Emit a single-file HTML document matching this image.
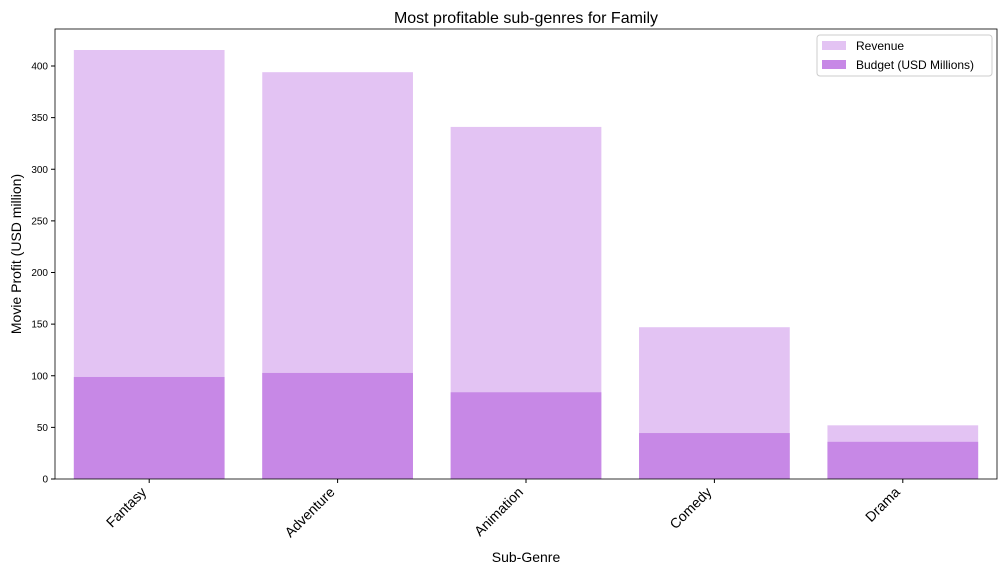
<!DOCTYPE html>
<html><head><meta charset="utf-8"><style>
body{margin:0;background:#fff;font-family:"Liberation Sans","DejaVu Sans",sans-serif}
</style></head><body>
<svg id="chart" width="1008" height="576" xmlns="http://www.w3.org/2000/svg" font-family="Liberation Sans, DejaVu Sans, sans-serif">
<rect width="1008" height="576" fill="#fff"/>
<text x="526" y="23" font-size="16" text-anchor="middle">Most profitable sub-genres for Family</text>
<g id="plot"></g>
<rect x="55" y="29" width="942" height="450" fill="none" stroke="#000" stroke-width="0.8"/>
<text transform="translate(21,254) rotate(-90)" font-size="14" text-anchor="middle">Movie Profit (USD million)</text>
<text x="526" y="562" font-size="14" text-anchor="middle">Sub-Genre</text>
<g>
<rect x="817" y="35" width="175" height="41" fill="#fff" stroke="#ccc" rx="3"/>
<rect x="822" y="41" width="24" height="9" fill="#e3c3f3"/>
<text x="856" y="50" font-size="12">Revenue</text>
<rect x="822" y="60" width="24" height="9" fill="#c788e6"/>
<text x="856" y="69" font-size="12">Budget (USD Millions)</text>
</g>
</svg>
<script>
const categories=["Fantasy","Adventure","Animation","Comedy","Drama"];
const revenue=[415.5,394,341,147,52];
const budget=[98.8,102.7,84,44.5,36];
const yTicks=[0,50,100,150,200,250,300,350,400];
const NS="http://www.w3.org/2000/svg";
const g=document.getElementById("plot");
const x0=55,x1=997,yb=479,sc=413/400;
const band=(x1-x0)/categories.length;
const y=v=>yb-v*sc;
const xc=i=>x0+band*(i+0.5);
function mk(t,a){const e=document.createElementNS(NS,t);for(const k in a)e.setAttribute(k,a[k]);g.appendChild(e);return e;}
categories.forEach((c,i)=>{
  const bw=band*0.8;
  const r=mk("rect",{x:xc(i)-bw/2,y:y(revenue[i]),width:bw,height:revenue[i]*sc,fill:"#e3c3f3"});
  
  
  const b=mk("rect",{x:xc(i)-bw/2,y:y(budget[i]),width:bw,height:budget[i]*sc,fill:"#c788e6"});
  
  
  const tk=mk("line",{x1:xc(i),x2:xc(i),y1:yb,y2:yb+4,stroke:"#000"});
  
  
  const t=mk("text",{transform:`translate(${xc(i)-2},${yb+14}) rotate(-45)`,"font-size":"14","text-anchor":"end"});
  t.textContent=c;
  
  
});
yTicks.forEach(v=>{
  const l=mk("line",{x1:x0-4,x2:x0,y1:y(v),y2:y(v),stroke:"#000"});
  
  
  const t=mk("text",{x:x0-7,y:y(v)+3.5,"font-size":"10","text-anchor":"end"});
  t.textContent=v;
  
  
});
</script>
</body></html>
